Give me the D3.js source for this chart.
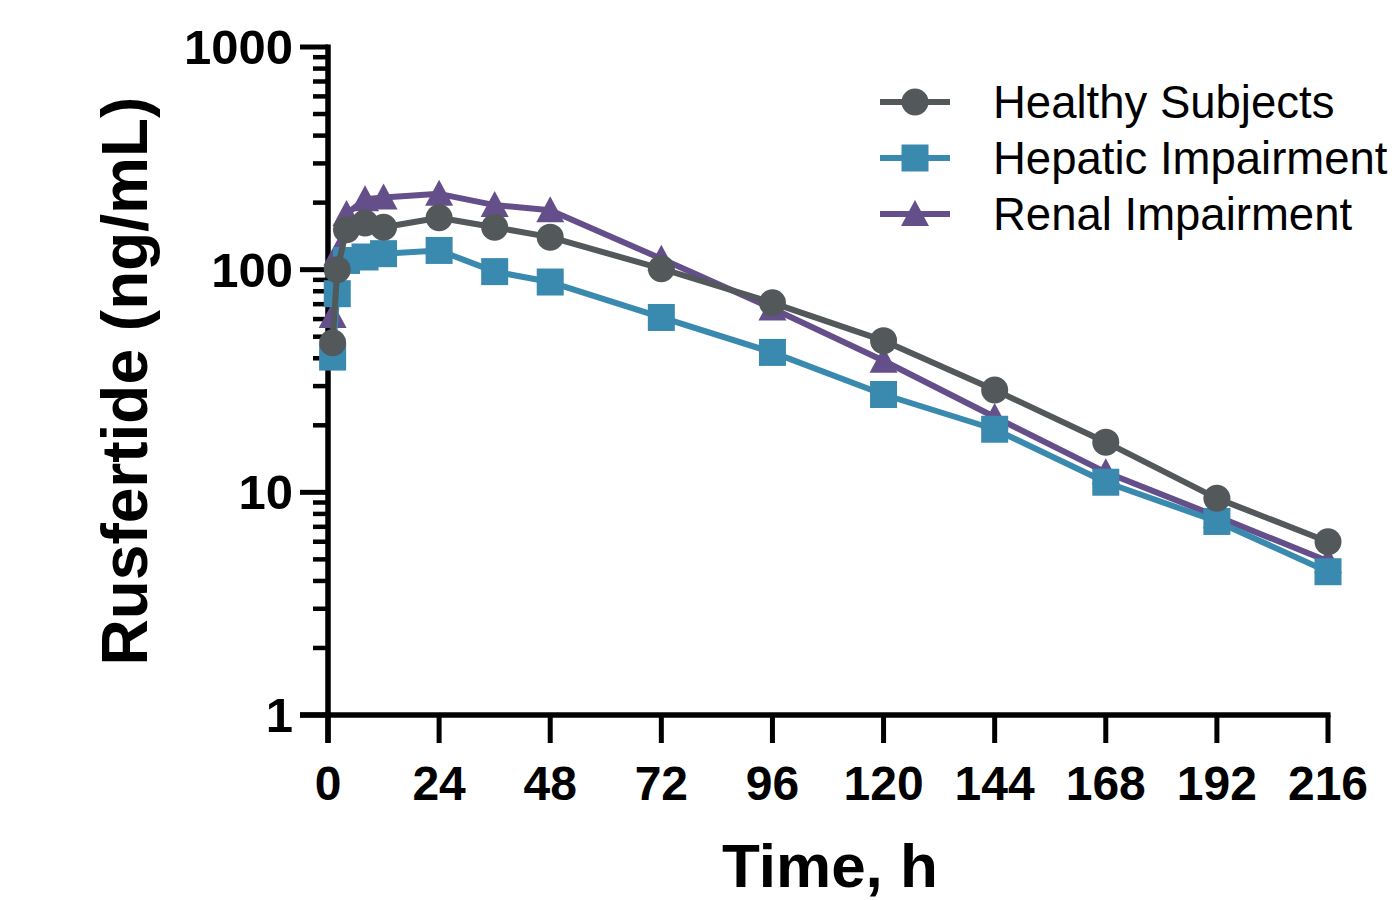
<!DOCTYPE html>
<html>
<head>
<meta charset="utf-8">
<script src="https://cdn.jsdelivr.net/npm/d3@7"></script>
<style>
  html, body { margin: 0; padding: 0; background: #fff; }
  svg text { font-family: "Liberation Sans", Arial, sans-serif; }
</style>
</head>
<body>
<div id="graphic"></div>
<script>
// sampling times (h)
const times = [1, 2, 4, 8, 12, 24, 36, 48, 72, 96, 120, 144, 168, 192, 216];

// mean concentrations (ng/mL)
const healthy = [47, 100, 151, 162, 155, 171, 155, 140, 101, 71, 48, 28.8, 16.8, 9.4, 6.0];
const hepatic = [40.5, 78, 110, 114, 118, 122, 98, 88, 61, 42.5, 27.5, 19.2, 11.1, 7.4, 4.4];
const renal = [62, 118, 178, 207, 211, 219, 195, 185, 112, 67, 39, 21.8, 12.3, 7.8, 4.9];

const seriesNames = ["Healthy Subjects", "Hepatic Impairment", "Renal Impairment"];
const xTicks = [0, 24, 48, 72, 96, 120, 144, 168, 192, 216];
const yTicks = [1, 10, 100, 1000];

const colors = {
  "Healthy Subjects": "#53585a",
  "Hepatic Impairment": "#3a8ab0",
  "Renal Impairment": "#654f8a"
};
const shapes = {
  "Healthy Subjects": "circle",
  "Hepatic Impairment": "square",
  "Renal Impairment": "triangle"
};

const width = 1398, height = 900;
const plot = { left: 328, right: 1328, top: 47, bottom: 715 };

const svg = d3.select("#graphic").append("svg")
  .attr("width", width)
  .attr("height", height);

const x = d3.scaleLinear().domain([0, 216]).range([plot.left, plot.right]);
const y = d3.scaleLog().domain([1, 1000]).range([plot.bottom, plot.top]);

// marker drawing: circle r 13.5, square 27, triangle 28 wide x 26 tall
function drawMarker(g, shape, cx, cy, color) {
  if (shape === "circle") {
    g.append("circle").attr("cx", cx).attr("cy", cy).attr("r", 13.5).attr("fill", color);
  } else if (shape === "square") {
    g.append("rect").attr("x", cx - 13.5).attr("y", cy - 13.5)
      .attr("width", 27).attr("height", 27).attr("fill", color);
  } else {
    const p = d3.path();
    p.moveTo(cx, cy - 14);
    p.lineTo(cx + 14, cy + 12);
    p.lineTo(cx - 14, cy + 12);
    p.closePath();
    g.append("path").attr("d", p.toString()).attr("fill", color);
  }
}

// axes
const yAxis = svg.append("g").attr("transform", `translate(${plot.left},0)`);
const minor = [];
for (let d = 1; d < 1000; d *= 10) {
  for (let k = 2; k <= 9; k++) minor.push(d * k);
}
yAxis.selectAll("line.minor").data(minor).enter().append("line")
  .attr("class", "minor")
  .attr("x1", -15).attr("x2", 0)
  .attr("y1", d => y(d)).attr("y2", d => y(d))
  .attr("stroke", "#000").attr("stroke-width", 4.5);
yAxis.selectAll("line.major").data(yTicks).enter().append("line")
  .attr("class", "major")
  .attr("x1", -28).attr("x2", 0)
  .attr("y1", d => y(d)).attr("y2", d => y(d))
  .attr("stroke", "#000").attr("stroke-width", 5);
yAxis.append("line")
  .attr("x1", 0).attr("x2", 0)
  .attr("y1", plot.top - 2.5).attr("y2", plot.bottom + 28)
  .attr("stroke", "#000").attr("stroke-width", 5.5);
yAxis.selectAll("text").data(yTicks).enter().append("text")
  .attr("x", -35)
  .attr("y", d => y(d) + 17)
  .attr("text-anchor", "end")
  .attr("font-size", 49).attr("font-weight", "bold")
  .text(d => d);

const xAxis = svg.append("g").attr("transform", `translate(0,${plot.bottom})`);
xAxis.append("line")
  .attr("x1", plot.left - 28).attr("x2", plot.right + 2.5)
  .attr("y1", 0).attr("y2", 0)
  .attr("stroke", "#000").attr("stroke-width", 5.5);
xAxis.selectAll("line.tick").data(xTicks).enter().append("line")
  .attr("class", "tick")
  .attr("x1", d => x(d)).attr("x2", d => x(d))
  .attr("y1", 0).attr("y2", 28)
  .attr("stroke", "#000").attr("stroke-width", 5);
xAxis.selectAll("text").data(xTicks).enter().append("text")
  .attr("x", d => x(d))
  .attr("y", 85)
  .attr("text-anchor", "middle")
  .attr("font-size", 48).attr("font-weight", "bold")
  .text(d => d);

// axis titles
svg.append("text")
  .attr("x", 830).attr("y", 887)
  .attr("text-anchor", "middle")
  .attr("font-size", 62).attr("font-weight", "bold")
  .text("Time, h");
svg.append("text")
  .attr("transform", "translate(147,381) rotate(-90)")
  .attr("text-anchor", "middle")
  .attr("font-size", 64).attr("font-weight", "bold")
  .text("Rusfertide (ng/mL)");

// series, drawn renal first so healthy sits on top
const seriesData = {
  "Healthy Subjects": healthy,
  "Hepatic Impairment": hepatic,
  "Renal Impairment": renal
};
const line = d3.line().x(d => x(d.t)).y(d => y(d.v));

["Renal Impairment", "Hepatic Impairment", "Healthy Subjects"].forEach(name => {
  const pts = times.map((t, i) => ({ t: t, v: seriesData[name][i] }));
  const g = svg.append("g");
  g.append("path")
    .datum(pts)
    .attr("fill", "none")
    .attr("stroke", colors[name])
    .attr("stroke-width", 6)
    .attr("stroke-linejoin", "round")
    .attr("d", line);
  pts.forEach(p => drawMarker(g, shapes[name], x(p.t), y(p.v), colors[name]));
});

// legend
const legend = svg.append("g");
seriesNames.forEach((name, i) => {
  const ly = 102 + i * 56;
  legend.append("line")
    .attr("x1", 880).attr("x2", 950)
    .attr("y1", ly).attr("y2", ly)
    .attr("stroke", colors[name]).attr("stroke-width", 6);
  drawMarker(legend, shapes[name], 915, ly, colors[name]);
  legend.append("text")
    .attr("x", 993).attr("y", ly + 16)
    .attr("font-size", 45.5)
    .attr("fill", "#000")
    .text(name);
});
</script>
</body>
</html>
